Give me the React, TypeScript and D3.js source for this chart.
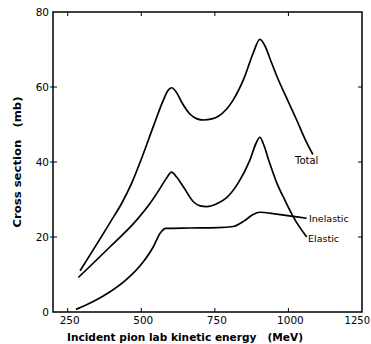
import React from "react";
import * as d3 from "d3";

const totalE = [292, 399, 435, 467, 507, 541, 575, 590, 603, 620, 637, 665, 690, 711, 740, 762, 812, 850, 880, 903, 920, 940, 960, 1000, 1028, 1060, 1083];
const totalV = [11, 24.5, 29.2, 34.3, 42.2, 49.5, 56.5, 59, 59.8, 58.5, 56, 52.8, 51.5, 51.2, 51.5, 52.2, 56.5, 62.5, 69, 72.7, 71, 67, 63, 56, 51.2, 45.5, 42];

const elasticE = [286, 394, 484, 530, 560, 584, 603, 620, 643, 677, 700, 722, 760, 790, 830, 869, 890, 903, 915, 935, 960, 990, 1017, 1062];
const elasticV = [9.2, 17.4, 24.5, 29, 32.5, 35.5, 37.3, 36, 33.4, 29.4, 28.3, 28.1, 29, 30.5, 34.5, 40.5, 45, 46.6, 44.8, 40, 34.5, 29.5, 25.3, 20];

const inelasticE = [278, 337, 394, 450, 507, 541, 564, 584, 665, 760, 812, 850, 880, 903, 960, 1062];
const inelasticV = [0.7, 2.8, 5.4, 8.7, 13.4, 17.4, 21, 22.3, 22.4, 22.5, 22.8, 24.3, 26, 26.6, 26.1, 25];

const xTicks = [250, 500, 750, 1000, 1250];
const yTicks = [0, 20, 40, 60, 80];

const W = 371;
const H = 344;
const L = 53, R = 362, T = 12, B = 312;

export default function App() {
  const x = d3.scaleLinear().domain([200, 1250]).range([L, R]);
  const y = d3.scaleLinear().domain([0, 80]).range([B, T]);
  const line = d3
    .line<[number, number]>()
    .x((d) => x(d[0]))
    .y((d) => y(d[1]))
    .curve(d3.curveMonotoneX);
  const mk = (e: number[], v: number[]) => e.map((d, i) => [d, v[i]] as [number, number]);
  const font = "'DejaVu Sans', sans-serif";
  const tl = 4;
  return (
    <svg width={W} height={H} style={{ position: "absolute", left: 0, top: 0, background: "#fff" }}>
      <rect x={L} y={T} width={R - L} height={B - T} fill="none" stroke="#000" strokeWidth={1.5} />
      {xTicks.filter((t) => t < 1250).map((t) => (
        <g key={"x" + t}>
          <line x1={x(t)} x2={x(t)} y1={B} y2={B - tl} stroke="#000" strokeWidth={1} />
          <line x1={x(t)} x2={x(t)} y1={T} y2={T + tl} stroke="#000" strokeWidth={1} />
        </g>
      ))}
      {xTicks.map((t) =>
        t === 1250 ? (
          <text key={"xl" + t} x={370} y={324} textAnchor="end" fontFamily={font} fontSize={10} fill="#000">
            {t}
          </text>
        ) : (
          <text key={"xl" + t} x={x(t) + 2} y={324} textAnchor="middle" fontFamily={font} fontSize={10.5} fill="#000">
            {t}
          </text>
        )
      )}
      {yTicks.filter((t) => t > 0 && t < 80).map((t) => (
        <g key={"y" + t}>
          <line x1={L - 3} x2={L + tl} y1={y(t)} y2={y(t)} stroke="#000" strokeWidth={1} />
          <line x1={R} x2={R - tl} y1={y(t)} y2={y(t)} stroke="#000" strokeWidth={1} />
        </g>
      ))}
      {yTicks.map((t) => (
        <text key={"yl" + t} x={49} y={y(t) + 4} textAnchor="end" fontFamily={font} fontSize={10.5} fill="#000">
          {t}
        </text>
      ))}
      <path d={line(mk(totalE, totalV)) || ""} fill="none" stroke="#000" strokeWidth={1.7} />
      <path d={line(mk(elasticE, elasticV)) || ""} fill="none" stroke="#000" strokeWidth={1.7} />
      <path d={line(mk(inelasticE, inelasticV)) || ""} fill="none" stroke="#000" strokeWidth={1.7} />
      <text x={295} y={164} fontFamily={font} fontSize={10} fill="#000">Total</text>
      <text x={309} y={222} fontFamily={font} fontSize={9.5} fill="#000">Inelastic</text>
      <text x={308} y={242} fontFamily={font} fontSize={9.5} fill="#000">Elastic</text>
      <text x={185} y={341} textAnchor="middle" fontFamily={font} fontSize={10} fontWeight="bold" textLength={236} lengthAdjust="spacingAndGlyphs" fill="#000" xmlSpace="preserve">
        {"Incident pion lab kinetic energy   (MeV)"}
      </text>
      <text transform={`translate(21,162) rotate(-90)`} textAnchor="middle" fontFamily={font} fontSize={10} fontWeight="bold" textLength={131} lengthAdjust="spacingAndGlyphs" fill="#000" xmlSpace="preserve">
        {"Cross section   (mb)"}
      </text>
    </svg>
  );
}
